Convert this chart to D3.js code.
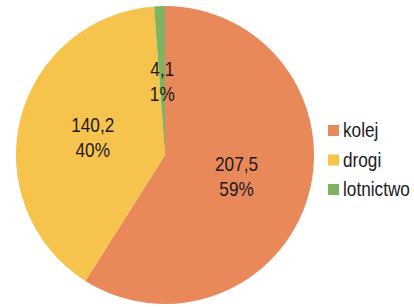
<!DOCTYPE html>
<html>
<head>
<meta charset="utf-8">
<script src="https://cdn.jsdelivr.net/npm/d3@7"></script>
<style>
  body { margin: 0; background: #fff; }
  text { font-family: "Liberation Sans", Arial, sans-serif; fill: #1a1a1a; }
</style>
</head>
<body>
<script>
// Data
var categories = ["kolej", "drogi", "lotnictwo"];
var values = [207.5, 140.2, 4.1];
var valueLabels = ["207,5", "140,2", "4,1"];
var percentLabels = ["59%", "40%", "1%"];
var colors = ["#E9895A", "#F6C34C", "#7EB461"];

var width = 414, height = 307;
var cx = 165, cy = 155, radius = 149;
var squeeze = 0.86; // font in the original is a bit condensed

var svg = d3.select("body")
    .append("svg")
    .attr("width", width)
    .attr("height", height);

var color = d3.scaleOrdinal().domain(categories).range(colors);

var pie = d3.pie().sort(null).value(function (d) { return d.value; });

var data = categories.map(function (c, i) {
    return { name: c, value: values[i], vlab: valueLabels[i], plab: percentLabels[i] };
});

var arcs = pie(data);

var arc = d3.arc().innerRadius(0).outerRadius(radius);
var labelArc = d3.arc().innerRadius(radius * 0.5).outerRadius(radius * 0.5);

var g = svg.append("g").attr("transform", "translate(" + cx + "," + cy + ")");

g.selectAll("path")
    .data(arcs)
    .enter()
    .append("path")
    .attr("d", arc)
    .attr("fill", function (d) { return color(d.data.name); });

// two-line labels: value and percent
var labels = g.selectAll(".lbl")
    .data(arcs)
    .enter()
    .append("text")
    .attr("class", "lbl")
    .attr("text-anchor", "middle")
    .style("font-size", "20px")
    .attr("transform", function (d) {
        var c = labelArc.centroid(d);
        return "translate(" + c[0] + "," + c[1] + ") scale(" + squeeze + ",1)";
    });

labels.append("tspan").attr("x", 0).attr("y", -5).text(function (d) { return d.data.vlab; });
labels.append("tspan").attr("x", 0).attr("y", 20).text(function (d) { return d.data.plab; });

// legend
var legendY = d3.scalePoint().domain(categories).range([125, 184]);

var legend = svg.selectAll(".legend")
    .data(categories)
    .enter()
    .append("g")
    .attr("class", "legend")
    .attr("transform", function (d) { return "translate(328," + legendY(d) + ")"; });

legend.append("rect")
    .attr("width", 11)
    .attr("height", 11)
    .attr("fill", function (d) { return color(d); });

legend.append("text")
    .attr("transform", "translate(15,12) scale(" + squeeze + ",1)")
    .style("font-size", "20px")
    .text(function (d) { return d; });
</script>
</body>
</html>
